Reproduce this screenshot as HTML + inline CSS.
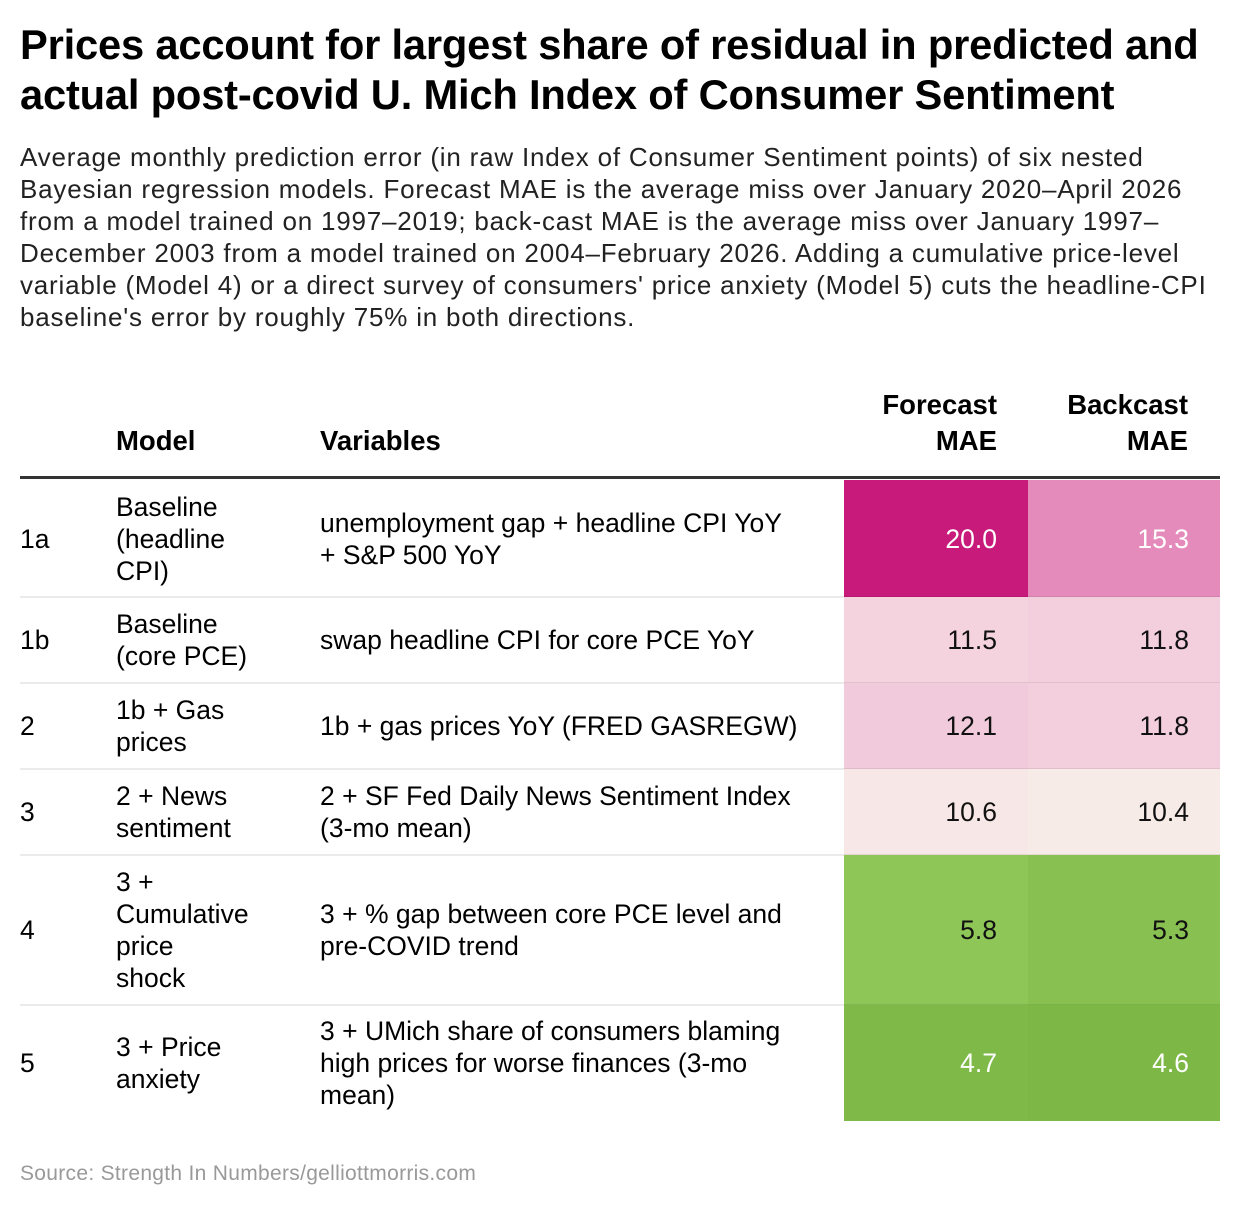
<!DOCTYPE html>
<html><head><meta charset="utf-8">
<style>
body{margin:0;width:1240px;height:1208px;background:#fff;font-family:"Liberation Sans",sans-serif;color:#000;position:relative;overflow:hidden}
.abs{position:absolute}
h1{position:absolute;left:20px;top:20px;margin:0;font-size:41.7px;line-height:50px;font-weight:bold;letter-spacing:-0.2px;width:1220px;white-space:nowrap}
.sub{left:20px;top:141px;font-size:26px;line-height:32px;color:#222;white-space:nowrap;letter-spacing:0.8px}
.hd{font-size:27.5px;font-weight:bold;line-height:36px}
.cell{position:absolute;font-size:26.5px;line-height:32px}
.src{left:20px;top:1162px;font-size:21px;color:#999;letter-spacing:0.3px}
</style></head><body>
<h1>Prices account for largest share of residual in predicted and<br>actual post-covid U. Mich Index of Consumer Sentiment</h1>
<div class="abs sub">Average monthly prediction error (in raw Index of Consumer Sentiment points) of six nested<br>Bayesian regression models. Forecast MAE is the average miss over January 2020–April 2026<br>from a model trained on 1997–2019; back-cast MAE is the average miss over January 1997–<br>December 2003 from a model trained on 2004–February 2026. Adding a cumulative price-level<br>variable (Model 4) or a direct survey of consumers' price anxiety (Model 5) cuts the headline-CPI<br>baseline's error by roughly 75% in both directions.</div>
<div class="abs hd" style="left:116px;top:423px">Model</div>
<div class="abs hd" style="left:320px;top:423px">Variables</div>
<div class="abs hd" style="right:243px;top:387px;text-align:right">Forecast<br>MAE</div>
<div class="abs hd" style="right:52px;top:387px;text-align:right">Backcast<br>MAE</div>
<div class="abs" style="left:20px;top:476px;width:1200px;height:3px;background:#333"></div>
<div id="rows"></div>
<div class="abs src">Source: Strength In Numbers/gelliottmorris.com</div>
<script>
const ids=["1a","1b","2","3","4","5"];
const models=["Baseline<br>(headline<br>CPI)","Baseline<br>(core PCE)","1b + Gas<br>prices","2 + News<br>sentiment","3 +<br>Cumulative<br>price<br>shock","3 + Price<br>anxiety"];
const variables=["unemployment gap + headline CPI YoY<br>+ S&amp;P 500 YoY","swap headline CPI for core PCE YoY","1b + gas prices YoY (FRED GASREGW)","2 + SF Fed Daily News Sentiment Index<br>(3-mo mean)","3 + % gap between core PCE level and<br>pre-COVID trend","3 + UMich share of consumers blaming<br>high prices for worse finances (3-mo<br>mean)"];
const forecast=[20.0,11.5,12.1,10.6,5.8,4.7];
const backcast=[15.3,11.8,11.8,10.4,5.3,4.6];
const rowH=[117,86,86,86,150,116];
const stops=[[4.6,[125,184,71]],[5.8,[143,198,88]],[10.4,[247,235,232]],[11.5,[245,211,222]],[12.1,[241,202,219]],[15.3,[228,139,187]],[20,[199,26,122]]];
function color(v){
  if(v<=stops[0][0])return stops[0][1];
  for(let i=1;i<stops.length;i++){if(v<=stops[i][0]){const a=stops[i-1],b=stops[i],t=(v-a[0])/(b[0]-a[0]);return a[1].map((c,k)=>Math.round(c+(b[1][k]-c)*t));}}
  return stops[stops.length-1][1];
}
function textCol(v){return (v>=14||v<5)?'#fff':'#111';}
const root=document.getElementById('rows');
let y=480;
ids.forEach((id,i)=>{
  const h=rowH[i];
  const r=document.createElement('div');
  r.className='abs';r.style.cssText=`left:0;top:${y}px;width:1240px;height:${h}px`;
  
  
  const mk=(left,html,name)=>{const d=document.createElement('div');d.className='cell';d.style.cssText=`left:${left}px;top:0;height:${h}px;display:flex;align-items:center;white-space:nowrap`;d.innerHTML=html;
    
    
    r.appendChild(d);};
  mk(20,id,'model-id');mk(116,models[i],'model-name');mk(320,variables[i],'model-variables');
  [[forecast[i],844,184,'forecast-cell'],[backcast[i],1028,192,'backcast-cell']].forEach(([v,x,w,n])=>{
    const c=document.createElement('div');const col=color(v);
    c.className='cell';c.style.cssText=`left:${x}px;top:0;width:${w-31}px;padding-right:31px;height:${h}px;display:flex;align-items:center;justify-content:flex-end;background:rgb(${col});color:${textCol(v)}`;
    c.textContent=v.toFixed(1);
    
    
    r.appendChild(c);
  });
  if(i<ids.length-1){const l=document.createElement('div');l.className='abs';l.style.cssText=`left:20px;top:${h-1}px;width:1200px;height:2px;background:rgba(0,0,0,0.08)`;
    
    
    r.appendChild(l);}
  root.appendChild(r);y+=h;
});
</script>
</body></html>
